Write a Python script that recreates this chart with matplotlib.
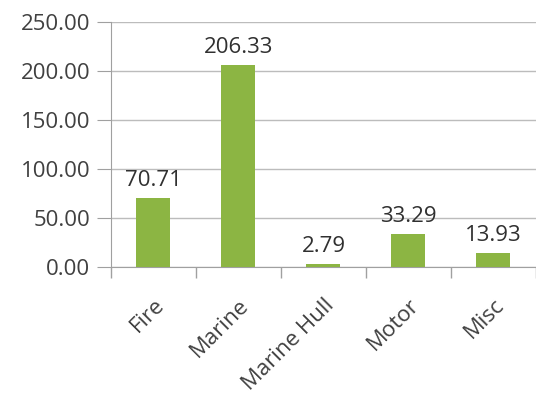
import matplotlib.pyplot as plt
import numpy as np

plt.rcParams["font.family"] = ["Open Sans", "DejaVu Sans"]

categories = ["Fire", "Marine", "Marine Hull", "Motor", "Misc"]
values = [70.71, 206.33, 2.79, 33.29, 13.93]
yticks = [0, 50, 100, 150, 200, 250]

fig = plt.figure(figsize=(5.36, 3.98), dpi=100)
ax = fig.add_axes([0.207, 0.329, 0.793, 0.616])

x = np.arange(len(categories))

ax.bar(x, values, width=0.4, color="#8cb543", zorder=3)

for xi, v in zip(x, values):
    ax.annotate(
        f"{v:.2f}",
        (xi, v),
        xytext=(0, 5),
        textcoords="offset points",
        ha="center",
        va="bottom",
        fontsize=16,
        color="#303030"
    )

ax.set_xlim(-0.5, len(categories) - 0.5)
ax.set_ylim(0, 250)

ax.set_yticks(yticks)
ax.set_yticklabels([f"{t:.2f}" for t in yticks])

ax.set_xticks(x)
ax.set_xticklabels(categories, rotation=45, ha="right", rotation_mode="anchor")
ax.set_xticks(np.arange(-0.5, len(categories)), minor=True)

ax.tick_params(axis="x", which="major", length=0, labelsize=16,
               labelcolor="#404040", pad=20)
ax.tick_params(axis="x", which="minor", length=8, color="#a0a0a0", width=1)
ax.tick_params(axis="y", length=10, color="#a0a0a0", labelsize=16,
               labelcolor="#404040", pad=5)

ax.grid(axis="y", color="#bcbcbc", linewidth=1, zorder=0)

for side in ["top", "right"]:
    ax.spines[side].set_visible(False)
ax.spines["left"].set_color("#a0a0a0")
ax.spines["bottom"].set_color("#a0a0a0")

plt.savefig("out.png", dpi=100)
